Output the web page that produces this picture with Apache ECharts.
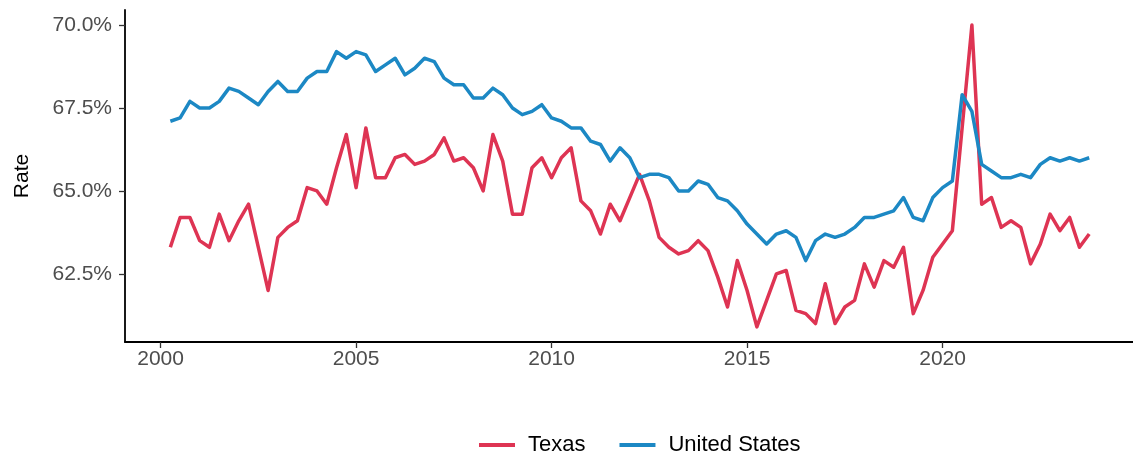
<!DOCTYPE html>
<html>
<head>
<meta charset="utf-8">
<script src="https://cdn.jsdelivr.net/npm/echarts@6/dist/echarts.min.js"></script>
<style>
html,body{margin:0;padding:0;background:#fff;}
#chart{width:1133px;height:457px;}
</style>
</head>
<body>
<div id="chart"></div>
<script>
// Quarterly homeownership rate, 2000 Q1 .. 2023 Q3 (plotted at end of quarter)
var firstYear = 2000;
var seriesNames = ['Texas', 'United States'];
var texas = [
  63.3, 64.2, 64.2, 63.5,  63.3, 64.3, 63.5, 64.1,  64.6, 63.3, 62.0, 63.6,
  63.9, 64.1, 65.1, 65.0,  64.6, 65.7, 66.7, 65.1,  66.9, 65.4, 65.4, 66.0,
  66.1, 65.8, 65.9, 66.1,  66.6, 65.9, 66.0, 65.7,  65.0, 66.7, 65.9, 64.3,
  64.3, 65.7, 66.0, 65.4,  66.0, 66.3, 64.7, 64.4,  63.7, 64.6, 64.1, 64.8,
  65.5, 64.7, 63.6, 63.3,  63.1, 63.2, 63.5, 63.2,  62.4, 61.5, 62.9, 62.0,
  60.9, 61.7, 62.5, 62.6,  61.4, 61.3, 61.0, 62.2,  61.0, 61.5, 61.7, 62.8,
  62.1, 62.9, 62.7, 63.3,  61.3, 62.0, 63.0, 63.4,  63.8, 66.9, 70.0, 64.6,
  64.8, 63.9, 64.1, 63.9,  62.8, 63.4, 64.3, 63.8,  64.2, 63.3, 63.7
];
var unitedStates = [
  67.1, 67.2, 67.7, 67.5,  67.5, 67.7, 68.1, 68.0,  67.8, 67.6, 68.0, 68.3,
  68.0, 68.0, 68.4, 68.6,  68.6, 69.2, 69.0, 69.2,  69.1, 68.6, 68.8, 69.0,
  68.5, 68.7, 69.0, 68.9,  68.4, 68.2, 68.2, 67.8,  67.8, 68.1, 67.9, 67.5,
  67.3, 67.4, 67.6, 67.2,  67.1, 66.9, 66.9, 66.5,  66.4, 65.9, 66.3, 66.0,
  65.4, 65.5, 65.5, 65.4,  65.0, 65.0, 65.3, 65.2,  64.8, 64.7, 64.4, 64.0,
  63.7, 63.4, 63.7, 63.8,  63.6, 62.9, 63.5, 63.7,  63.6, 63.7, 63.9, 64.2,
  64.2, 64.3, 64.4, 64.8,  64.2, 64.1, 64.8, 65.1,  65.3, 67.9, 67.4, 65.8,
  65.6, 65.4, 65.4, 65.5,  65.4, 65.8, 66.0, 65.9,  66.0, 65.9, 66.0
];
var xTicks = [2000, 2005, 2010, 2015, 2020];
var yTicks = [62.5, 65.0, 67.5, 70.0];
var yAxisTitle = 'Rate';

function toPairs(vals) {
  return vals.map(function (v, i) { return [firstYear + (i + 1) * 0.25, v]; });
}

var font = 'Liberation Sans, Arial, sans-serif';
var chart = echarts.init(document.getElementById('chart'), null, {renderer: 'canvas'});
chart.setOption({
  animation: false,
  backgroundColor: '#ffffff',
  grid: {left: 125, right: 0, top: 10, bottom: 115, containLabel: false},
  legend: {
    data: seriesNames,
    top: 429,
    left: 474,
    icon: 'rect',
    itemWidth: 36,
    itemHeight: 4,
    itemGap: 34,
    textStyle: {fontFamily: font, fontSize: 22, color: '#000', padding: [0, 0, 0, 8]}
  },
  xAxis: {
    type: 'value',
    min: 1999.09,
    max: 2024.87,
    axisLine: {show: true, lineStyle: {color: '#000', width: 1.8}},
    axisTick: {show: true, length: 6, lineStyle: {color: '#333', width: 1.3}, customValues: xTicks},
    axisLabel: {fontFamily: font, fontSize: 21, color: '#4d4d4d', margin: 7, customValues: xTicks,
      formatter: function (v) { return String(v); }},
    splitLine: {show: false}
  },
  yAxis: {
    type: 'value',
    min: 60.445,
    max: 70.455,
    name: yAxisTitle,
    nameLocation: 'middle',
    nameRotate: 90,
    nameGap: 92,
    nameTextStyle: {fontFamily: font, fontSize: 21, color: '#000'},
    axisLine: {show: true, lineStyle: {color: '#000', width: 1.8}},
    axisTick: {show: true, length: 6, lineStyle: {color: '#333', width: 1.3}, customValues: yTicks},
    axisLabel: {fontFamily: font, fontSize: 21, color: '#4d4d4d', margin: 13, customValues: yTicks,
      formatter: function (v) { return v.toFixed(1) + '%'; }},
    splitLine: {show: false}
  },
  series: [
    {
      name: seriesNames[0], type: 'line', data: toPairs(texas),
      showSymbol: false, symbol: 'none',
      color: '#de3453',
      lineStyle: {width: 3.5, color: '#de3453', join: 'round'}
    },
    {
      name: seriesNames[1], type: 'line', data: toPairs(unitedStates),
      showSymbol: false, symbol: 'none',
      color: '#1c88c4',
      lineStyle: {width: 3.5, color: '#1c88c4', join: 'round'}
    }
  ]
});
</script>
</body>
</html>
